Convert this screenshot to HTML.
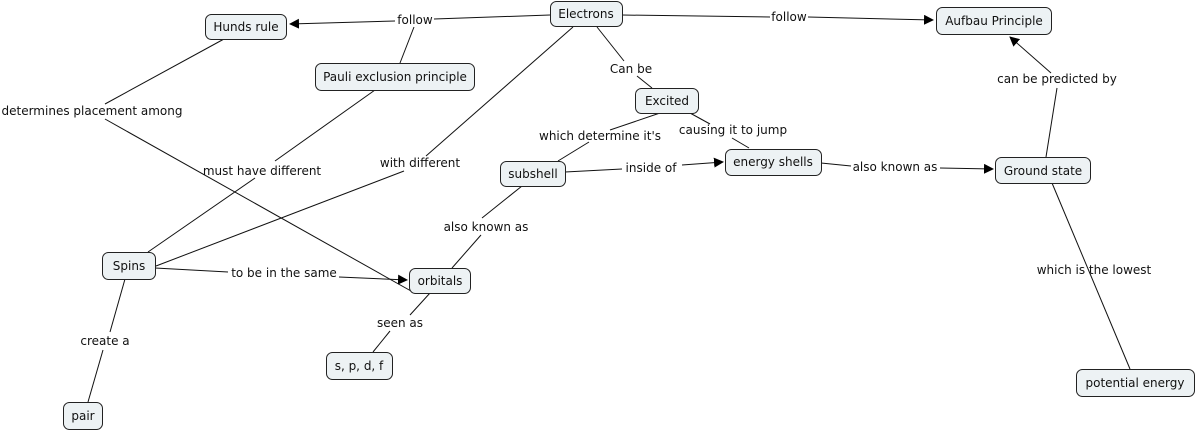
<!DOCTYPE html>
<html><head><meta charset="utf-8"><style>
html,body{margin:0;padding:0;background:#fff;}
svg{display:block;}
text{font-family:"DejaVu Sans","Liberation Sans",sans-serif;font-size:12px;fill:#111;}
rect.n{fill:#edf2f4;stroke:#222;stroke-width:1;}
line{stroke:#111;stroke-width:1;}
</style></head><body>
<svg width="1197" height="431" viewBox="0 0 1197 431" xmlns="http://www.w3.org/2000/svg">
<defs><marker id="a" markerWidth="10" markerHeight="10" refX="9" refY="5" orient="auto" markerUnits="userSpaceOnUse"><path d="M0,0 L10,5 L0,10 z" fill="#000"/></marker></defs>
<g>
<!-- connectors -->
<line x1="550" y1="15" x2="434" y2="19"/>
<line x1="395" y1="21" x2="290" y2="24" marker-end="url(#a)"/>
<line x1="414" y1="27" x2="400" y2="63"/>
<line x1="622" y1="15" x2="770" y2="17"/>
<line x1="808" y1="17" x2="933" y2="20" marker-end="url(#a)"/>
<line x1="597" y1="27" x2="624" y2="61"/>
<line x1="637" y1="76" x2="652" y2="88"/>
<line x1="573" y1="27" x2="426" y2="156"/>
<line x1="404" y1="171" x2="156" y2="266"/>
<line x1="660" y1="113" x2="610" y2="130"/>
<line x1="589" y1="142" x2="558" y2="161"/>
<line x1="690" y1="113" x2="710" y2="124"/>
<line x1="732" y1="138" x2="749" y2="148"/>
<line x1="565" y1="172" x2="622" y2="169"/>
<line x1="682" y1="165" x2="723" y2="162" marker-end="url(#a)"/>
<line x1="821" y1="163" x2="851" y2="166"/>
<line x1="940" y1="168" x2="993" y2="169" marker-end="url(#a)"/>
<line x1="1046" y1="157" x2="1057" y2="88"/>
<line x1="1051" y1="73" x2="1010" y2="37" marker-end="url(#a)"/>
<line x1="1052" y1="183" x2="1130" y2="369"/>
<line x1="224" y1="39" x2="105" y2="104"/>
<line x1="105" y1="119" x2="411" y2="291"/>
<line x1="375" y1="90" x2="275" y2="161"/>
<line x1="255" y1="178" x2="148" y2="252"/>
<line x1="155" y1="268" x2="228" y2="272"/>
<line x1="339" y1="277" x2="407" y2="280" marker-end="url(#a)"/>
<line x1="522" y1="186" x2="482" y2="218"/>
<line x1="481" y1="235" x2="452" y2="268"/>
<line x1="430" y1="293" x2="410" y2="315"/>
<line x1="390" y1="331" x2="373" y2="352"/>
<line x1="125" y1="279" x2="110" y2="332"/>
<line x1="103" y1="350" x2="88" y2="402"/>
</g>
<!-- link labels -->
<g text-anchor="middle">
<text x="415" y="24">follow</text>
<text x="789" y="21">follow</text>
<text x="631" y="73">Can be</text>
<text x="600" y="140">which determine it's</text>
<text x="733" y="134">causing it to jump</text>
<text x="651" y="172">inside of</text>
<text x="895" y="171">also known as</text>
<text x="1057" y="83">can be predicted by</text>
<text x="1094" y="274">which is the lowest</text>
<text x="92" y="115">determines placement among</text>
<text x="262" y="175">must have different</text>
<text x="420" y="167">with different</text>
<text x="486" y="231">also known as</text>
<text x="284" y="277">to be in the same</text>
<text x="400" y="327">seen as</text>
<text x="105" y="345">create a</text>
</g>
<!-- nodes -->
<g text-anchor="middle">
<rect class="n" x="205.5" y="14.5" width="81" height="25" rx="6"/><text x="246" y="31">Hunds rule</text>
<rect class="n" x="550.5" y="1.5" width="72" height="25" rx="6"/><text x="586" y="18">Electrons</text>
<rect class="n" x="936.5" y="7.5" width="115" height="27" rx="6"/><text x="994" y="25">Aufbau Principle</text>
<rect class="n" x="315.5" y="63.5" width="159" height="27" rx="6"/><text x="395" y="81">Pauli exclusion principle</text>
<rect class="n" x="635.5" y="88.5" width="63" height="25" rx="6"/><text x="667" y="105">Excited</text>
<rect class="n" x="500.5" y="161.5" width="65" height="25" rx="6"/><text x="533" y="178">subshell</text>
<rect class="n" x="725.5" y="149.5" width="96" height="26" rx="6"/><text x="773" y="166">energy shells</text>
<rect class="n" x="995.5" y="157.5" width="95" height="26" rx="6"/><text x="1043" y="175">Ground state</text>
<rect class="n" x="102.5" y="252.5" width="53" height="27" rx="6"/><text x="129" y="270">Spins</text>
<rect class="n" x="409.5" y="268.5" width="61" height="25" rx="6"/><text x="440" y="285">orbitals</text>
<rect class="n" x="326.5" y="352.5" width="66" height="27" rx="6"/><text x="359" y="370">s, p, d, f</text>
<rect class="n" x="63.5" y="402.5" width="39" height="27" rx="6"/><text x="83" y="420">pair</text>
<rect class="n" x="1076.5" y="369.5" width="118" height="27" rx="6"/><text x="1135" y="387">potential energy</text>
</g>
</svg>
</body></html>
